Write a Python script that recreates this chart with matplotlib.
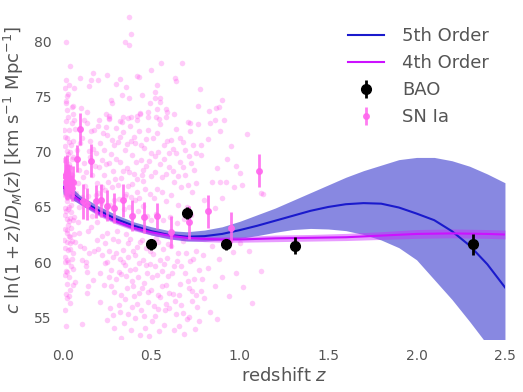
import matplotlib
matplotlib.use('Agg')
import matplotlib.pyplot as plt

# --- fitted curves ---
z5 = [0.0, 0.1, 0.2, 0.3, 0.4, 0.5, 0.6, 0.7, 0.8, 0.9, 1.0, 1.1, 1.2, 1.3,
      1.4, 1.5, 1.6, 1.7, 1.8, 1.9, 2.0, 2.1, 2.2, 2.3, 2.4, 2.5]
fit5 = [66.8, 65.6, 64.7, 63.9, 63.3, 62.8, 62.45, 62.3, 62.35, 62.55, 62.9, 63.3, 63.75,
        64.2, 64.65, 65.0, 65.25, 65.35, 65.3, 64.95, 64.4, 63.8, 62.8, 61.5, 59.8, 57.7]
fit5_lo = [66.2, 65.2, 64.3, 63.55, 62.95, 62.45, 62.1, 61.9, 61.9, 62.0, 62.15, 62.4, 62.7,
           62.95, 63.05, 63.0, 62.85, 62.5, 62.0, 61.3, 60.2, 58.4, 56.6, 54.6, 52.5, 50.0]
fit5_hi = [67.5, 66.0, 65.1, 64.3, 63.65, 63.2, 62.85, 62.75, 62.9, 63.2, 63.7, 64.3, 64.9,
           65.6, 66.3, 67.0, 67.7, 68.3, 68.8, 69.3, 69.5, 69.5, 69.2, 68.7, 68.0, 67.2]

z4 = [0.0, 0.1, 0.2, 0.3, 0.4, 0.5, 0.6, 0.7, 0.8, 0.9, 1.0, 1.2, 1.4, 1.6, 1.8,
      2.0, 2.2, 2.4, 2.5]
fit4 = [66.8, 65.5, 64.5, 63.7, 63.1, 62.7, 62.4, 62.2, 62.1, 62.05, 62.05, 62.15, 62.2,
        62.25, 62.4, 62.55, 62.6, 62.55, 62.5]
fit4_lo = [66.4, 65.2, 64.2, 63.45, 62.85, 62.45, 62.15, 61.95, 61.85, 61.8, 61.8, 61.85,
           61.9, 61.95, 62.05, 62.15, 62.2, 62.15, 62.1]
fit4_hi = [67.2, 65.8, 64.8, 63.95, 63.35, 62.95, 62.65, 62.45, 62.35, 62.3, 62.3, 62.45,
           62.5, 62.6, 62.75, 62.95, 63.0, 62.95, 62.9]

# --- BAO ---
bao_z = [0.50, 0.70, 0.92, 1.31, 2.32]
bao_y = [61.6, 64.45, 61.6, 61.5, 61.6]
bao_err = [0.5, 0.55, 0.5, 0.8, 0.95]

# --- binned SN Ia ---
snb_z = [0.010, 0.015, 0.020, 0.025, 0.030, 0.035, 0.040, 0.048, 0.055, 0.080, 0.096,
         0.115, 0.134, 0.158, 0.184, 0.214, 0.25, 0.29, 0.34, 0.39, 0.457, 0.529,
         0.613, 0.71, 0.82, 0.95, 1.11]
snb_y = [67.8, 67.3, 68.2, 67.0, 67.6, 66.9, 67.5, 66.7, 67.3, 69.4, 72.1,
         65.5, 65.3, 69.2, 65.5, 65.6, 65.1, 64.9, 65.6, 64.2, 64.05, 64.2,
         62.75, 63.6, 64.6, 63.1, 68.3]
snb_err = [1.8, 1.6, 1.5, 1.4, 1.3, 1.2, 1.3, 1.2, 1.4, 1.2, 1.45,
           1.6, 1.45, 1.5, 1.5, 1.5, 1.4, 1.4, 1.5, 1.4, 1.4, 1.2,
           1.45, 1.5, 1.5, 1.4, 1.5]

# --- individual SN Ia (z, value) ---
sn_points = [
    # sparse top
    (0.372, 82.3), (0.384, 80.7), (0.35, 80.0), (0.376, 79.7), (0.015, 80.0), (0.038, 77.8),
    (0.557, 78.1), (0.673, 78.1), (0.169, 77.2), (0.246, 77.0), (0.096, 76.7), (0.497, 77.4),
    (0.416, 76.9), (0.429, 76.8), (0.019, 76.5), (0.16, 76.5), (0.20, 76.5), (0.325, 76.6),
    (0.632, 76.7), (0.641, 76.4), (0.297, 76.2), (0.032, 76.1), (0.147, 76.0), (0.009, 75.8),
    (0.06, 75.8), (0.354, 75.9), (0.534, 76.1), (0.773, 75.7), (0.021, 75.1), (0.523, 75.4),
    (0.444, 75.2), (0.331, 75.2), (0.269, 74.7), (0.372, 74.9), (0.52, 74.9), (0.549, 74.9),
    (0.017, 74.6), (0.277, 74.4), (0.493, 74.4), (0.549, 74.5), (0.897, 74.7), (0.051, 74.1),
    (0.766, 74.2), (0.882, 74.1), (0.863, 74.0), (0.530, 73.9), (0.581, 73.9), (0.135, 73.6),
    (0.243, 73.4), (0.26, 73.3), (0.828, 73.7), (0.591, 73.6), (0.482, 73.6), (0.436, 73.5),
    (0.416, 73.3), (0.625, 73.4), (0.912, 72.9), (0.858, 72.9), (0.34, 73.2), (0.384, 73.2),
    (0.483, 73.2), (0.525, 73.2), (0.581, 73.2), (0.544, 73.0), (0.258, 73.1), (0.056, 73.4),
    (0.06, 72.9), (0.205, 72.9), (0.325, 72.8), (0.421, 72.9), (0.709, 72.7),
    # low-z column
    (0.008, 72.0), (0.012, 70.5), (0.015, 69.2), (0.010, 68.0), (0.018, 66.9), (0.022, 65.5),
    (0.009, 64.3), (0.014, 63.0), (0.020, 61.8), (0.011, 60.5), (0.016, 59.2), (0.025, 71.3),
    (0.028, 69.8), (0.031, 67.5), (0.027, 64.8), (0.033, 62.4), (0.024, 58.0), (0.019, 57.1),
    (0.013, 55.6), (0.030, 73.2), (0.035, 70.9), (0.038, 68.6), (0.042, 66.2), (0.036, 63.7),
    (0.040, 61.2), (0.045, 59.6), (0.048, 72.6), (0.050, 69.4), (0.053, 65.9), (0.047, 63.1),
    (0.055, 60.8), (0.058, 71.0), (0.060, 67.2), (0.062, 62.5), (0.017, 74.4), (0.023, 73.8),
    (0.009, 71.4), (0.013, 66.1), (0.021, 63.9), (0.007, 62.0), (0.026, 60.0), (0.032, 58.6),
    (0.015, 54.2), (0.039, 56.3), (0.044, 64.5), (0.052, 67.9), (0.057, 74.2), (0.029, 75.3),
    (0.034, 66.6), (0.011, 58.8), (0.041, 70.0), (0.046, 68.0), (0.02, 62.6), (0.04, 62.3),
    (0.068, 61.8), (0.03, 61.1), (0.02, 60.2), (0.02, 59.1), (0.058, 59.4), (0.022, 56.7),
    (0.006, 66.5), (0.012, 64.9), (0.017, 67.8), (0.021, 70.1), (0.026, 66.0), (0.029, 63.4),
    (0.034, 68.9), (0.037, 61.7), (0.043, 65.2), (0.049, 60.3), (0.054, 63.8), (0.059, 69.5),
    (0.063, 65.7), (0.010, 61.3), (0.019, 72.8), (0.024, 62.9), (0.031, 65.0), (0.036, 72.0),
    (0.042, 57.5), (0.047, 70.6), (0.051, 61.9), (0.056, 57.9), (0.061, 64.1), (0.014, 60.0),
    (0.008, 69.3), (0.027, 67.1), (0.033, 56.9), (0.018, 64.6), (0.023, 68.4), (0.039, 64.0),
    # 0.065 - 0.20
    (0.07, 72.1), (0.08, 70.2), (0.09, 68.4), (0.075, 66.3), (0.085, 63.6), (0.095, 61.5),
    (0.105, 60.2), (0.11, 71.3), (0.12, 69.0), (0.125, 66.9), (0.13, 59.6), (0.14, 57.8),
    (0.135, 72.6), (0.145, 70.1), (0.10, 74.0), (0.115, 67.7), (0.07, 58.2), (0.105, 54.4),
    (0.14, 62.8), (0.088, 65.0), (0.13, 60.0), (0.133, 59.1), (0.137, 57.2),
    (0.082, 67.2), (0.097, 70.8), (0.108, 65.9), (0.118, 72.9), (0.128, 68.2), (0.142, 66.0),
    (0.152, 71.0), (0.162, 67.9), (0.175, 72.0), (0.188, 69.9), (0.198, 66.3), (0.093, 62.6),
    (0.118, 61.3), (0.148, 60.8), (0.178, 61.0), (0.158, 63.2),
    # 0.15 - 0.30 upper
    (0.16, 71.9), (0.17, 70.3), (0.18, 68.7), (0.19, 67.2), (0.20, 72.4), (0.21, 70.8),
    (0.22, 69.3), (0.23, 67.9), (0.24, 66.5), (0.25, 71.5), (0.26, 73.0), (0.27, 69.8),
    (0.28, 68.3), (0.29, 70.6), (0.30, 72.2), (0.155, 69.5), (0.185, 66.1), (0.215, 65.4),
    (0.245, 68.9), (0.275, 66.8), (0.295, 67.5), (0.225, 71.7), (0.165, 64.2), (0.195, 63.6),
    (0.235, 64.6), (0.265, 65.2), (0.285, 64.0),
    (0.205, 68.6), (0.218, 66.8), (0.232, 70.2), (0.241, 72.3), (0.255, 67.3), (0.262, 69.0),
    (0.278, 71.1), (0.288, 65.6),
    # 0.30 - 0.50 upper
    (0.31, 70.9), (0.32, 69.1), (0.33, 67.6), (0.34, 71.8), (0.35, 70.2), (0.36, 68.5),
    (0.37, 66.9), (0.38, 72.4), (0.39, 69.7), (0.40, 68.0), (0.41, 70.8), (0.42, 66.4),
    (0.43, 71.9), (0.44, 69.3), (0.45, 67.4), (0.46, 70.4), (0.47, 68.7), (0.48, 72.0),
    (0.49, 66.2), (0.50, 69.9), (0.315, 65.7), (0.345, 64.8), (0.355, 66.2), (0.375, 65.0),
    (0.395, 64.3), (0.405, 65.6), (0.425, 64.6), (0.455, 65.1), (0.475, 64.2), (0.495, 63.8),
    (0.335, 72.7), (0.365, 73.1), (0.435, 73.4), (0.385, 71.0), (0.445, 67.9),
    (0.302, 69.4), (0.312, 67.0), (0.322, 71.4), (0.338, 68.3), (0.348, 66.0), (0.362, 70.7),
    (0.372, 68.2), (0.382, 65.9), (0.392, 67.1), (0.402, 71.4), (0.412, 69.1), (0.418, 67.5),
    (0.432, 65.8), (0.442, 70.6), (0.452, 68.4), (0.462, 66.6), (0.472, 71.2), (0.488, 69.2),
    (0.498, 67.8),
    # 0.50 - 0.75 upper
    (0.51, 71.3), (0.52, 68.2), (0.53, 66.6), (0.54, 70.0), (0.55, 72.5), (0.56, 67.7),
    (0.57, 69.4), (0.58, 65.5), (0.59, 71.0), (0.60, 68.6), (0.61, 66.1), (0.62, 70.3),
    (0.63, 67.3), (0.64, 72.1), (0.65, 65.2), (0.66, 69.1), (0.67, 66.8), (0.68, 70.9),
    (0.69, 67.9), (0.70, 65.0), (0.71, 69.6), (0.72, 71.9), (0.73, 66.4), (0.74, 68.4),
    (0.525, 64.4), (0.565, 63.8), (0.605, 64.1), (0.645, 63.5), (0.685, 63.9), (0.725, 64.3),
    (0.755, 67.2),
    (0.512, 65.8), (0.518, 69.6), (0.532, 71.7), (0.548, 68.9), (0.558, 66.4), (0.572, 70.6),
    (0.582, 68.0), (0.598, 69.9), (0.612, 71.1), (0.622, 68.3), (0.638, 69.9), (0.652, 67.8),
    (0.662, 71.3), (0.678, 68.6), (0.692, 70.2), (0.708, 67.0), (0.722, 69.0), (0.738, 70.6),
    # 0.75 - 1.15
    (1.04, 71.6), (0.93, 69.4), (0.98, 68.7), (1.0, 68.1), (0.87, 68.5), (0.84, 67.3),
    (0.886, 67.3), (0.92, 67.3), (0.97, 66.8), (1.01, 67.0), (1.13, 66.2), (0.78, 70.6),
    (0.755, 69.9), (0.78, 69.7), (0.83, 72.6), (0.764, 72.5), (0.717, 72.6), (0.80, 65.6),
    (0.86, 64.9), (0.90, 65.8), (0.82, 71.2), (0.95, 70.5), (0.89, 71.9), (1.12, 59.2),
    (1.07, 56.3), (1.12, 66.3),
    # below the curves
    (0.171, 58.4), (0.21, 59.0), (0.246, 54.7), (0.265, 55.8), (0.29, 54.0), (0.33, 53.1),
    (0.32, 55.5), (0.19, 62.0), (0.2, 61.2), (0.22, 60.6), (0.24, 61.7), (0.25, 60.0),
    (0.27, 59.3), (0.28, 62.1), (0.26, 58.6), (0.23, 57.9), (0.29, 57.3), (0.21, 56.4),
    (0.3, 60.8), (0.28, 55.2), (0.25, 62.6),
    (0.222, 62.4), (0.238, 59.9), (0.258, 61.0), (0.272, 57.8), (0.282, 60.5), (0.298, 58.5),
    (0.31, 61.9), (0.32, 60.3), (0.33, 58.9), (0.34, 61.1), (0.35, 59.7), (0.36, 57.6),
    (0.37, 60.5), (0.38, 62.1), (0.39, 58.3), (0.40, 56.9), (0.41, 59.4), (0.42, 61.4),
    (0.43, 57.2), (0.44, 55.6), (0.45, 60.2), (0.315, 56.1), (0.345, 54.5), (0.365, 55.3),
    (0.385, 53.8), (0.405, 54.9), (0.425, 58.6), (0.435, 53.4), (0.355, 62.5), (0.395, 61.0),
    (0.445, 62.0),
    (0.308, 62.8), (0.318, 59.1), (0.328, 57.0), (0.338, 60.0), (0.348, 56.6), (0.358, 58.7),
    (0.368, 61.7), (0.378, 59.3), (0.388, 55.9), (0.398, 57.8), (0.408, 60.6), (0.418, 56.2),
    (0.428, 59.9), (0.438, 61.8), (0.448, 57.6), (0.458, 55.1), (0.468, 59.7), (0.478, 57.3),
    (0.46, 58.1), (0.47, 61.3), (0.48, 56.4), (0.49, 59.8), (0.50, 57.5), (0.51, 60.7),
    (0.52, 55.1), (0.53, 58.8), (0.54, 61.8), (0.55, 56.8), (0.56, 59.2), (0.57, 54.3),
    (0.58, 57.9), (0.59, 60.4), (0.60, 55.8), (0.465, 54.0), (0.485, 53.3), (0.505, 54.6),
    (0.525, 62.2), (0.545, 53.7), (0.565, 61.2), (0.585, 56.2), (0.475, 59.0), (0.535, 57.0),
    (0.595, 58.7),
    (0.492, 61.0), (0.502, 58.6), (0.512, 56.0), (0.522, 59.6), (0.538, 55.7), (0.548, 60.2),
    (0.558, 57.8), (0.572, 59.8), (0.578, 55.6), (0.592, 61.6), (0.602, 57.2), (0.618, 59.0),
    (0.61, 61.5), (0.62, 57.1), (0.63, 59.6), (0.64, 55.3), (0.65, 60.8), (0.66, 58.0),
    (0.67, 56.1), (0.68, 61.9), (0.69, 59.0), (0.70, 54.8), (0.71, 57.6), (0.72, 60.1),
    (0.73, 56.5), (0.74, 58.5), (0.75, 61.0), (0.76, 55.9), (0.77, 59.3), (0.78, 57.4),
    (0.79, 60.6), (0.80, 56.7), (0.625, 53.8), (0.655, 54.2), (0.685, 53.5), (0.715, 55.0),
    (0.745, 53.9),
    (0.632, 56.5), (0.642, 60.1), (0.658, 57.0), (0.668, 59.6), (0.678, 55.4), (0.698, 60.8),
    (0.708, 58.3), (0.728, 57.4), (0.738, 60.3), (0.752, 57.0), (0.768, 54.6), (0.788, 58.5),
    (0.82, 59.5), (0.84, 61.5), (0.86, 57.8), (0.88, 60.3), (0.90, 58.6), (0.92, 62.0),
    (0.94, 56.9), (0.96, 60.9), (0.98, 59.0), (1.0, 61.7), (0.83, 55.5), (0.87, 54.8),
    (1.02, 57.7), (1.05, 61.0),
]
sn_z = [p[0] for p in sn_points]
sn_y = [p[1] for p in sn_points]

text_col = '#555555'
plt.rcParams['font.family'] = 'DejaVu Sans'

fig = plt.figure(figsize=(5.23, 3.92), dpi=100)
ax = fig.add_axes([0.1205, 0.135, 0.845, 0.865])

ax.scatter(sn_z, sn_y, s=16, color='#ff55ee', alpha=0.3, linewidths=0, zorder=1)

ax.fill_between(z5, fit5_lo, fit5_hi, color='#3333cc', alpha=0.58, linewidth=0, zorder=2)
ax.fill_between(z4, fit4_lo, fit4_hi, color='#cc22ff', alpha=0.45, linewidth=0, zorder=3)
ax.plot(z5, fit5, color='#1a1acc', lw=1.5, label='5th Order', zorder=4)
ax.plot(z4, fit4, color='#cc11ff', lw=1.5, label='4th Order', zorder=4)

ax.errorbar(bao_z, bao_y, yerr=bao_err, fmt='o', color='black', ms=7, elinewidth=2,
            capsize=0, label='BAO', zorder=6)
ax.errorbar(snb_z, snb_y, yerr=snb_err, fmt='o', color='#ff66ee', ms=4, elinewidth=2,
            capsize=0, alpha=0.85, label='SN Ia', zorder=5)

ax.set_xlim(0, 2.5)
ax.set_ylim(53, 83.8)
ax.set_xticks([0.0, 0.5, 1.0, 1.5, 2.0, 2.5])
ax.set_yticks([55, 60, 65, 70, 75, 80])
for s in ax.spines.values():
    s.set_visible(False)
ax.tick_params(axis='both', length=0, labelsize=10, labelcolor=text_col)
ax.tick_params(axis='y', pad=8)
ax.tick_params(axis='x', pad=7)

ax.set_xlabel('redshift $z$', fontsize=13, color=text_col, labelpad=3)
ax.set_ylabel(r'$c\ \ln(1+z)/D_M(z)$ [km s$^{-1}$ Mpc$^{-1}$]', fontsize=13,
              color=text_col, labelpad=6)

leg = ax.legend(loc='upper right', frameon=False, fontsize=13, labelcolor=text_col,
                bbox_to_anchor=(1.0, 0.968), handlelength=2.0, handletextpad=1.0)

fig.savefig('out.png', dpi=100)
